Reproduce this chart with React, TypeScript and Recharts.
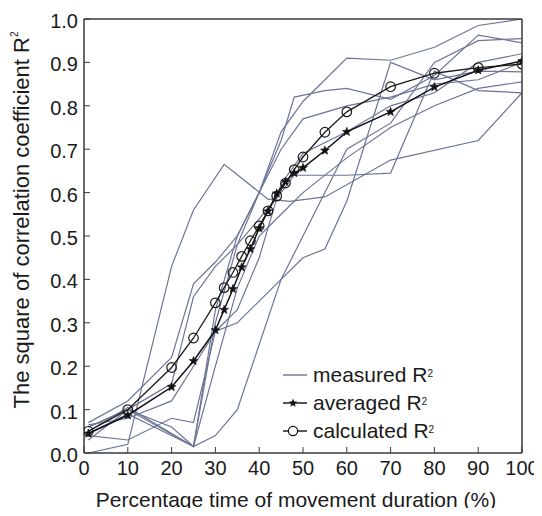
import React from "react";
import { LineChart, Line, XAxis, YAxis, Legend } from "recharts";

// ---- data ----
const xTicks = [0, 10, 20, 30, 40, 50, 60, 70, 80, 90, 100];
const yTicks = [0, 0.1, 0.2, 0.3, 0.4, 0.5, 0.6, 0.7, 0.8, 0.9, 1.0];

const markerX = [1, 10, 20, 25, 30, 32, 34, 36, 38, 40, 42, 44, 46, 48, 50, 55, 60, 70, 80, 90, 100];
const averagedY = [0.045, 0.087, 0.152, 0.212, 0.283, 0.33, 0.378, 0.428, 0.47, 0.518, 0.557, 0.598, 0.625, 0.645, 0.657, 0.697, 0.74, 0.786, 0.843, 0.882, 0.903];
const calculatedY = [0.05, 0.1, 0.197, 0.265, 0.346, 0.381, 0.416, 0.453, 0.489, 0.523, 0.558, 0.592, 0.622, 0.653, 0.682, 0.739, 0.786, 0.844, 0.875, 0.888, 0.896];

const measured1 = [[1, 0.0], [10, 0.02], [20, 0.43], [25, 0.56], [32, 0.665], [42, 0.585], [47, 0.58], [55, 0.59], [70, 0.675], [90, 0.72], [100, 0.83]];
const measured2 = [[1, 0.07], [10, 0.12], [20, 0.22], [25, 0.39], [30, 0.44], [35, 0.5], [40, 0.6], [45, 0.74], [50, 0.81], [60, 0.91], [70, 0.905], [80, 0.935], [90, 0.985], [100, 1.0]];
const measured3 = [[1, 0.06], [10, 0.1], [20, 0.16], [25, 0.36], [30, 0.43], [35, 0.48], [40, 0.6], [45, 0.72], [48, 0.82], [55, 0.835], [60, 0.84], [70, 0.815], [80, 0.87], [90, 0.963], [100, 0.945]];
const measured4 = [[1, 0.05], [10, 0.105], [25, 0.015], [30, 0.3], [35, 0.48], [40, 0.54], [45, 0.6], [48, 0.64], [60, 0.64], [70, 0.645], [80, 0.88], [90, 0.835], [100, 0.83]];
const measured5 = [[1, 0.045], [10, 0.09], [25, 0.015], [30, 0.2], [35, 0.38], [40, 0.5], [45, 0.55], [50, 0.6], [60, 0.68], [70, 0.75], [80, 0.8], [90, 0.84], [100, 0.855]];
const measured6 = [[1, 0.04], [10, 0.03], [20, 0.08], [25, 0.07], [30, 0.28], [35, 0.3], [40, 0.35], [45, 0.4], [50, 0.45], [55, 0.47], [60, 0.58], [70, 0.9], [80, 0.86], [90, 0.88], [100, 0.878]];
const measured7 = [[1, 0.03], [10, 0.1], [25, 0.015], [30, 0.04], [35, 0.1], [40, 0.25], [45, 0.4], [50, 0.5], [55, 0.6], [60, 0.7], [70, 0.76], [80, 0.9], [90, 0.95], [100, 0.955]];
const measured8 = [[1, 0.065], [10, 0.08], [20, 0.12], [25, 0.2], [30, 0.28], [35, 0.33], [40, 0.45], [45, 0.62], [50, 0.69], [60, 0.74], [70, 0.8], [80, 0.83], [90, 0.9], [100, 0.92]];
const measured9 = [[1, 0.06], [10, 0.1], [20, 0.06], [25, 0.015], [30, 0.33], [35, 0.5], [40, 0.6], [45, 0.7], [50, 0.77], [60, 0.8], [70, 0.82], [80, 0.85], [90, 0.86], [100, 0.9]];

const measuredSets = [measured1, measured2, measured3, measured4, measured5, measured6, measured7, measured8, measured9];

const averagedData = markerX.map((x, i) => ({ x, y: averagedY[i] }));
const calculatedData = markerX.map((x, i) => ({ x, y: calculatedY[i] }));
const measuredData = measuredSets.map((s) => s.map(([x, y]) => ({ x, y })));

const FONT = '"Liberation Sans", Arial, Helvetica, sans-serif';
const AXIS = "#3a3a3a";
const MEAS = "#6c7497";
const TXT = "#1a1a1a";

const starPoints = (cx: number, cy: number, ro: number, ri: number) => {
  const pts: string[] = [];
  for (let k = 0; k < 10; k++) {
    const r = k % 2 === 0 ? ro : ri;
    const a = -Math.PI / 2 + (k * Math.PI) / 5;
    pts.push(`${cx + r * Math.cos(a)},${cy + r * Math.sin(a)}`);
  }
  return pts.join(" ");
};

const StarDot = (props: any) => {
  const { cx, cy, index } = props;
  if (cx == null || cy == null) return <g key={`s${index}`} />;
  return <polygon key={`s${index}`} points={starPoints(cx, cy, 4.6, 1.9)} fill="#111" stroke="#111" strokeWidth={0.6} />;
};

const CircleDot = (props: any) => {
  const { cx, cy, index } = props;
  if (cx == null || cy == null) return <g key={`c${index}`} />;
  return <circle key={`c${index}`} cx={cx} cy={cy} r={4.8} fill="none" stroke="#1a1a1a" strokeWidth={1.2} />;
};

const BottomTick = (props: any) => {
  const { x, y, payload } = props;
  return (
    <g>
      <line x1={x} x2={x} y1={y} y2={y - 6} stroke={AXIS} strokeWidth={1} />
      <text x={x} y={y + 22} textAnchor="middle" fontSize={20} fontFamily={FONT} fill={TXT}>
        {payload.value}
      </text>
    </g>
  );
};

const TopTick = (props: any) => {
  const { x, y } = props;
  return <line x1={x} x2={x} y1={y} y2={y + 6} stroke={AXIS} strokeWidth={1} />;
};

const LeftTick = (props: any) => {
  const { x, y, payload } = props;
  return (
    <g>
      <line x1={x} x2={x + 6} y1={y} y2={y} stroke={AXIS} strokeWidth={1} />
      <text x={x - 6} y={y + 9} textAnchor="end" fontSize={20} fontFamily={FONT} fill={TXT}>
        {Number(payload.value).toFixed(1)}
      </text>
    </g>
  );
};

const RightTick = (props: any) => {
  const { x, y } = props;
  return <line x1={x} x2={x - 6} y1={y} y2={y} stroke={AXIS} strokeWidth={1} />;
};

const Sup = () => <sup style={{ fontSize: 10, verticalAlign: "top", position: "relative", top: -1 }}>2</sup>;

const legendRows = [
  { key: "measured", label: "measured R" },
  { key: "averaged", label: "averaged R" },
  { key: "calculated", label: "calculated R" },
];

const LegendContent = () => (
  <div style={{ fontFamily: FONT, fontSize: 21, color: TXT }}>
    {legendRows.map((r) => (
      <div key={r.key} style={{ display: "flex", alignItems: "center", height: 28, lineHeight: "28px" }}>
        <svg width={24} height={28} style={{ marginRight: 6, flex: "none" }}>
          <line x1={0} x2={24} y1={14} y2={14} stroke={r.key === "measured" ? MEAS : "#111"} strokeWidth={1.4} />
          {r.key === "averaged" && <polygon points={starPoints(10, 14, 4.6, 1.9)} fill="#111" />}
          {r.key === "calculated" && <circle cx={10} cy={14} r={4.6} fill="white" stroke="#111" strokeWidth={1.2} />}
        </svg>
        <span style={{ whiteSpace: "nowrap" }}>
          {r.label}
          <Sup />
        </span>
      </div>
    ))}
  </div>
);

export default function App() {
  return (
    <div style={{ position: "relative", width: 530, height: 500, fontFamily: FONT }}>
      <LineChart width={530} height={500} margin={{ top: 10, right: 15, bottom: 54, left: 75 }}>
        <XAxis
          xAxisId="b"
          dataKey="x"
          type="number"
          domain={[0, 100]}
          ticks={xTicks}
          orientation="bottom"
          height={1}
          tickSize={0}
          tickMargin={0}
          tickLine={false}
          axisLine={{ stroke: AXIS, strokeWidth: 1.5 }}
          tick={<BottomTick />}
          interval={0}
          allowDataOverflow
        />
        <XAxis
          xAxisId="t"
          dataKey="x"
          type="number"
          domain={[0, 100]}
          ticks={xTicks}
          orientation="top"
          height={1}
          tickSize={0}
          tickMargin={0}
          tickLine={false}
          axisLine={{ stroke: AXIS, strokeWidth: 1.5 }}
          tick={<TopTick />}
          interval={0}
        />
        <YAxis
          yAxisId="l"
          type="number"
          domain={[0, 1]}
          ticks={yTicks}
          orientation="left"
          width={1}
          tickSize={0}
          tickMargin={0}
          tickLine={false}
          axisLine={{ stroke: AXIS, strokeWidth: 1.5 }}
          tick={<LeftTick />}
          interval={0}
          allowDataOverflow
        />
        <YAxis
          yAxisId="r"
          type="number"
          domain={[0, 1]}
          ticks={yTicks}
          orientation="right"
          width={1}
          tickSize={0}
          tickMargin={0}
          tickLine={false}
          axisLine={{ stroke: AXIS, strokeWidth: 1.5 }}
          tick={<RightTick />}
          interval={0}
        />
        {measuredData.map((d, i) => (
          <Line
            key={`m${i}`}
            xAxisId="b"
            yAxisId="l"
            data={d}
            dataKey="y"
            type="linear"
            stroke={MEAS}
            strokeWidth={1.2}
            dot={false}
            activeDot={false}
            isAnimationActive={false}
            legendType="none"
          />
        ))}
        <Line
          xAxisId="b"
          yAxisId="l"
          data={averagedData}
          dataKey="y"
          name="averaged"
          type="linear"
          stroke="#111"
          strokeWidth={1.5}
          dot={<StarDot />}
          activeDot={false}
          isAnimationActive={false}
        />
        <Line
          xAxisId="b"
          yAxisId="l"
          data={calculatedData}
          dataKey="y"
          name="calculated"
          type="linear"
          stroke="#1a1a1a"
          strokeWidth={1.3}
          dot={<CircleDot />}
          activeDot={false}
          isAnimationActive={false}
        />
        <Legend
          layout="vertical"
          align="center"
          verticalAlign="middle"
          content={<LegendContent />}
          wrapperStyle={{ position: "absolute", left: 275, top: 353, width: 180, height: 84 }}
        />
      </LineChart>
      <div
        style={{
          position: "absolute",
          left: 288,
          top: 481,
          transform: "translateX(-50%)",
          whiteSpace: "nowrap",
          fontSize: 21,
          lineHeight: 1,
          color: TXT,
        }}
      >
        Percentage time of movement duration (%)
      </div>
      <div
        style={{
          position: "absolute",
          left: 14,
          top: 212,
          transform: "translate(-50%, -50%) rotate(-90deg)",
          whiteSpace: "nowrap",
          fontSize: 22,
          lineHeight: 1,
          color: TXT,
        }}
      >
        The square of correlation coefficient R
        <Sup />
      </div>
    </div>
  );
}
